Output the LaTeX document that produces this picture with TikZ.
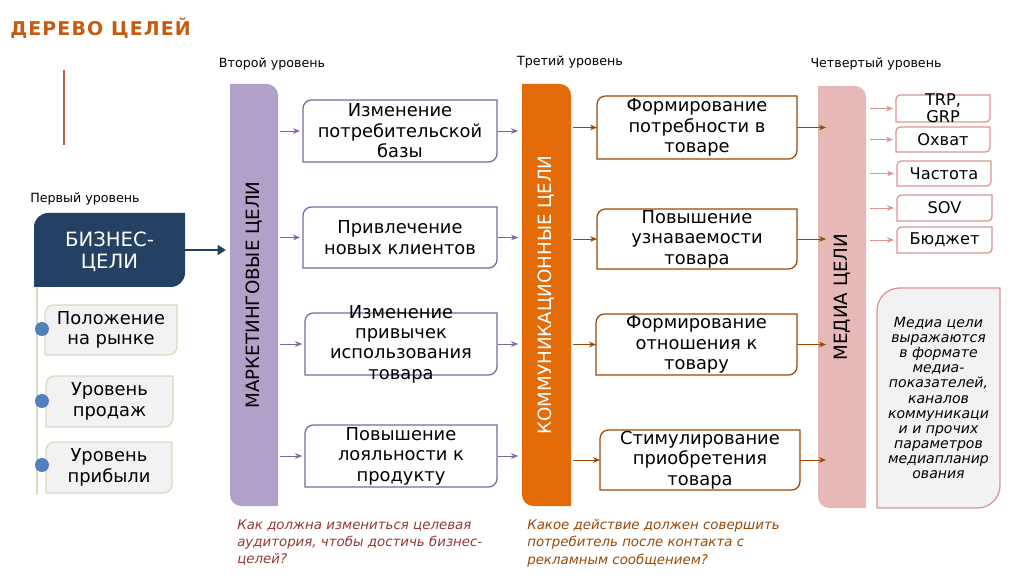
\documentclass[tikz,border=0pt]{standalone}
\usepackage{fontspec}
\setmainfont{DejaVu Sans}
\newfontfamily\titlefont{DejaVu Sans}[LetterSpace=6]
\usetikzlibrary{arrows.meta,backgrounds,calc}

\definecolor{titleor}{HTML}{C55A11}
\definecolor{redline}{HTML}{B85C4E}
\definecolor{navy}{HTML}{244062}
\definecolor{dotblue}{HTML}{4F81BD}
\definecolor{greyfill}{HTML}{F2F2F2}
\definecolor{beige}{HTML}{DDD9C3}
\definecolor{lavender}{HTML}{B1A0C7}
\definecolor{violet}{HTML}{8064A2}
\definecolor{orangebar}{HTML}{E36C09}
\definecolor{brownline}{HTML}{984807}
\definecolor{pinkbar}{HTML}{E6B9B8}
\definecolor{pinkline}{HTML}{D99694}
\definecolor{capred}{HTML}{953735}

\tikzset{
  sz/.style 2 args={minimum width=#1*0.025cm, minimum height=#2*0.025cm, inner sep=0pt, outer sep=0pt},
  lbl/.style={align=center, inner sep=0pt},
  boxtxt/.style={lbl, font=\fontsize{12.7}{14.5}\selectfont},
  bartxt/.style={lbl, rotate=90, font=\fontsize{13}{15}\selectfont},
  head/.style={inner sep=0pt, font=\fontsize{9}{11}\selectfont},
  caption/.style={inner sep=0pt, align=left, anchor=north west, font=\itshape\fontsize{9.5}{12.4}\selectfont},
  navyfill/.style={fill=navy},
  greyfrm/.style={fill=greyfill, draw=beige},
  mfrm/.style={fill=white, draw=violet},
  kfrm/.style={fill=white, draw=brownline},
  pfrm/.style={fill=white, draw=pinkline},
  nfrm/.style={fill=greyfill, draw=pinkline},
  marr/.style={violet, line width=0.7pt, -{Stealth[length=5pt,width=4pt]}},
  karr/.style={brownline, line width=0.7pt, -{Stealth[length=5pt,width=4pt]}},
  parr/.style={pinkline, line width=0.7pt, -{Stealth[length=5pt,width=4pt]}},
  barr/.style={navy, line width=1.8pt, -{Triangle[length=6pt,width=7pt]}},
}

\begin{document}
\begin{tikzpicture}[x=0.025cm,y=-0.025cm]
\useasboundingbox (0,0) rectangle (1024,576);

% title
\node[anchor=west, inner sep=0pt, text=titleor, font=\titlefont\bfseries\fontsize{13.5}{16}\selectfont] (title) at (10,28) {ДЕРЕВО ЦЕЛЕЙ};
\draw[redline, line width=1.2pt] (64,70) -- (64,145);

% level headers
\node[head] (h1) at (85,199) {Первый уровень};
\node[head] (h2) at (272,64) {Второй уровень};
\node[head] (h3) at (570,62) {Третий уровень};
\node[head] (h4) at (876,64) {Четвертый уровень};

% frames
\node[sz={48}{422}] (mk) at (254,295) {};
\node[sz={49}{422}] (km) at (546.5,295) {};
\node[sz={48}{422}] (md) at (842,297) {};

\node[sz={151}{74}] (bz) at (109.5,250) {};
\node[sz={132}{50}] (g1) at (111,330) {};
\node[sz={127}{51}] (g2) at (109.5,401.5) {};
\node[sz={126}{51}] (g3) at (109,467.5) {};

\node[sz={194}{62}] (m1) at (400,131) {};
\node[sz={194}{61}] (m2) at (400,237.5) {};
\node[sz={192}{62}] (m3) at (401,344) {};
\node[sz={192}{62}] (m4) at (401,456) {};

\node[sz={200}{63}] (k1) at (697,127.5) {};
\node[sz={200}{60}] (k2) at (697,239) {};
\node[sz={201}{61}] (k3) at (696.5,344.5) {};
\node[sz={200}{60}] (k4) at (700,460) {};

\node[sz={94}{27}] (p1) at (943,108.5) {};
\node[sz={94}{25}] (p2) at (943,139.5) {};
\node[sz={94}{25}] (p3) at (944,173.5) {};
\node[sz={95}{26}] (p4) at (944.5,208) {};
\node[sz={95}{26}] (p5) at (944.5,240) {};

\node[sz={123}{220}] (nb) at (938.5,398) {};

\begin{scope}[on background layer]
% bars: top right and bottom left rounded
\foreach \n/\c in {mk/lavender, km/orangebar, md/pinkbar}
  \fill[\c] (\n.north west) -- ([xshift=-8pt]\n.north east) arc[start angle=90,end angle=0,radius=8pt]
    -- (\n.south east) -- ([xshift=8pt]\n.south west) arc[start angle=270,end angle=180,radius=8pt] -- cycle;
% boxes: top left and bottom right rounded
\foreach \n/\st/\r in {bz/navyfill/10pt, g1/greyfrm/6pt, g2/greyfrm/6pt, g3/greyfrm/6pt,
    m1/mfrm/6pt, m2/mfrm/6pt, m3/mfrm/6pt, m4/mfrm/6pt,
    k1/kfrm/6pt, k2/kfrm/6pt, k3/kfrm/6pt, k4/kfrm/6pt,
    p1/pfrm/3pt, p2/pfrm/3pt, p3/pfrm/3pt, p4/pfrm/3pt, p5/pfrm/3pt, nb/nfrm/16pt}
  \path[line width=0.9pt, \st] (\n.south west) -- ([yshift=-\r]\n.north west) arc[start angle=180,end angle=90,radius=\r]
    -- (\n.north east) -- ([yshift=\r]\n.south east) arc[start angle=0,end angle=-90,radius=\r] -- cycle;
% stem under business goals
\coordinate (stemend) at (37,495);
\draw[beige, line width=1pt] ([xshift=3*0.025cm]bz.south west) -- (stemend);
\end{scope}

% texts
\node[bartxt] (mk-t) at (mk) {МАРКЕТИНГОВЫЕ ЦЕЛИ};
\node[bartxt, text=white] (km-t) at (km) {КОММУНИКАЦИОННЫЕ ЦЕЛИ};
\node[bartxt] (md-t) at (md) {МЕДИА ЦЕЛИ};

\node[lbl, text=white, font=\fontsize{14}{15.5}\selectfont] (bz-t) at ([yshift=-1pt]bz) {БИЗНЕС-\\ЦЕЛИ};
\node[boxtxt] (g1-t) at (g1) {Положение\\на рынке};
\node[boxtxt] (g2-t) at (g2) {Уровень\\продаж};
\node[boxtxt] (g3-t) at (g3) {Уровень\\прибыли};

\node[dotblue, fill, circle, minimum size=14*0.025cm, inner sep=0pt] (d1) at (42,329) {};
\node[dotblue, fill, circle, minimum size=14*0.025cm, inner sep=0pt] (d2) at (42,401) {};
\node[dotblue, fill, circle, minimum size=14*0.025cm, inner sep=0pt] (d3) at (42,465) {};

\node[boxtxt] (m1-t) at (m1) {Изменение\\потребительской\\базы};
\node[boxtxt] (m2-t) at (m2) {Привлечение\\новых клиентов};
\node[boxtxt] (m3-t) at (m3) {Изменение\\привычек\\использования\\товара};
\node[boxtxt] (m4-t) at (m4) {Повышение\\лояльности к\\продукту};

\node[boxtxt] (k1-t) at (k1) {Формирование\\потребности в\\товаре};
\node[boxtxt] (k2-t) at (k2) {Повышение\\узнаваемости\\товара};
\node[boxtxt] (k3-t) at (k3) {Формирование\\отношения к\\товару};
\node[boxtxt] (k4-t) at (k4) {Стимулирование\\приобретения\\товара};

\node[lbl, font=\fontsize{11.5}{12}\selectfont] (p1-t) at (p1) {TRP,\\GRP};
\node[lbl, font=\fontsize{11.5}{12}\selectfont] (p2-t) at (p2) {Охват};
\node[lbl, font=\fontsize{11.5}{12}\selectfont] (p3-t) at (p3) {Частота};
\node[lbl, font=\fontsize{11.5}{12}\selectfont] (p4-t) at (p4) {SOV};
\node[lbl, font=\fontsize{11.5}{12}\selectfont] (p5-t) at (p5) {Бюджет};

\node[lbl, font=\itshape\fontsize{10}{10.8}\selectfont] (nb-t) at (nb) {Медиа цели\\выражаются\\в формате\\медиа-\\показателей,\\каналов\\коммуникаци\\и и прочих\\параметров\\медиапланир\\ования};

\node[caption, text=capred] (cap1) at (237,519) {Как должна измениться целевая\\аудитория, чтобы достичь бизнес-\\целей?};
\node[caption, text=brownline] (cap2) at (527,519) {Какое действие должен совершить\\потребитель после контакта с\\рекламным сообщением?};

% connectors
\draw[barr] (bz.east) -- ([xshift=-4*0.025cm]mk.west |- bz.east);
\foreach \n in {m1,m2,m3,m4} {
  \draw[marr] ([xshift=2*0.025cm]mk.east |- \n.west) -- ([xshift=-3*0.025cm]\n.west);
  \draw[marr] ([xshift=1*0.025cm]\n.east) -- ([xshift=-4*0.025cm]km.west |- \n.east);
}
\foreach \n in {k1,k2,k3,k4} {
  \draw[karr] ([xshift=2*0.025cm]km.east |- \n.west) -- (\n.west);
  \draw[karr] (\n.east) -- ($(md.west |- \n.east)+(8,0)$);
}
\foreach \n in {p1,p2,p3,p4,p5}
  \draw[parr] ([xshift=4*0.025cm]md.east |- \n.west) -- ([xshift=-3*0.025cm]\n.west);

\end{tikzpicture}
\end{document}
